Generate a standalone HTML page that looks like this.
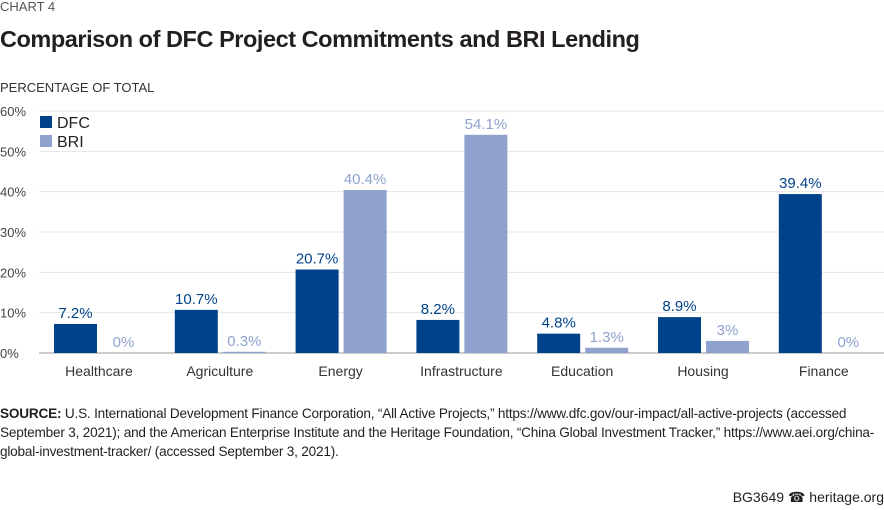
<!DOCTYPE html>
<html><head><meta charset="utf-8"><style>
body{margin:0;width:884px;height:510px;background:#fff;font-family:"Liberation Sans",sans-serif;position:relative;overflow:hidden;color:#231f20}
.t{position:absolute;white-space:nowrap}
</style></head><body>
<div class="t" style="left:0;top:-1px;font-size:13px;color:#555">CHART 4</div>
<div class="t" style="left:0;top:26px;font-size:23.5px;font-weight:bold;letter-spacing:-0.45px">Comparison of DFC Project Commitments and BRI Lending</div>
<div class="t" style="left:0;top:80px;font-size:13px;color:#333">PERCENTAGE OF TOTAL</div>
<svg id="chart" width="884" height="390" style="position:absolute;left:0;top:0"></svg>
<div class="t" style="left:0;top:404px;font-size:13.6px;line-height:19px;color:#231f20;letter-spacing:-0.2px"><b>SOURCE:</b> U.S. International Development Finance Corporation, “All Active Projects,” https://www.dfc.gov/our-impact/all-active-projects (accessed<br>September 3, 2021); and the American Enterprise Institute and the Heritage Foundation, “China Global Investment Tracker,” https://www.aei.org/china-<br>global-investment-tracker/ (accessed September 3, 2021).</div>
<div class="t" style="right:0;top:489px;font-size:14px">BG3649 &#9742; heritage.org</div>
<script>
const categories=["Healthcare","Agriculture","Energy","Infrastructure","Education","Housing","Finance"];
const dfc=[7.2,10.7,20.7,8.2,4.8,8.9,39.4];
const bri=[0,0.3,40.4,54.1,1.3,3,0];
const dfcLabels=["7.2%","10.7%","20.7%","8.2%","4.8%","8.9%","39.4%"];
const briLabels=["0%","0.3%","40.4%","54.1%","1.3%","3%","0%"];
const ticks=[0,10,20,30,40,50,60];
const svg=document.getElementById('chart');
const NS='http://www.w3.org/2000/svg';
const y=v=>353-v*(242/60);
const cx=i=>98+i*120.8;
function mk(t,a,txt){const e=document.createElementNS(NS,t);for(const k in a)e.setAttribute(k,a[k]);if(txt!=null)e.textContent=txt;svg.appendChild(e);return e;}
ticks.forEach(v=>{
 const g=mk('line',{x1:39,x2:884,y1:y(v),y2:y(v),stroke:v?'#e6e6e6':'#999','stroke-width':1});
 
 
 const t=mk('text',{x:0,y:y(v)+5,'font-size':13,fill:'#444','font-family':'Liberation Sans'},v+'%');
 
 
});
categories.forEach((c,i)=>{
 const x=cx(i);
 const b1=mk('rect',{x:x-44,y:y(dfc[i]),width:43,height:353-y(dfc[i]),fill:'#00438a'});
 
 
 const b2=mk('rect',{x:x+4,y:y(bri[i]),width:43,height:353-y(bri[i]),fill:'#8fa2ce'});
 
 
 const l1=mk('text',{x:x-22.5,y:y(dfc[i])-6,'text-anchor':'middle','font-size':15,fill:'#00438a','font-family':'Liberation Sans'},dfcLabels[i]);
 
 
 const l2=mk('text',{x:x+25.5,y:y(bri[i])-6,'text-anchor':'middle','font-size':15,fill:'#8fa2ce','font-family':'Liberation Sans'},briLabels[i]);
 
 
 const xl=mk('text',{x:x+1,y:376,'text-anchor':'middle','font-size':14,fill:'#333','font-family':'Liberation Sans'},c);
 
 
});
[["DFC","#00438a",116],["BRI","#8fa2ce",135]].forEach(([n,col,yy])=>{
 const r=mk('rect',{x:40,y:yy,width:12,height:12,fill:col});
 
 
 const t=mk('text',{x:57,y:yy+12,'font-size':16,fill:'#231f20','font-family':'Liberation Sans'},n);
 
 
});
</script>
</body></html>
